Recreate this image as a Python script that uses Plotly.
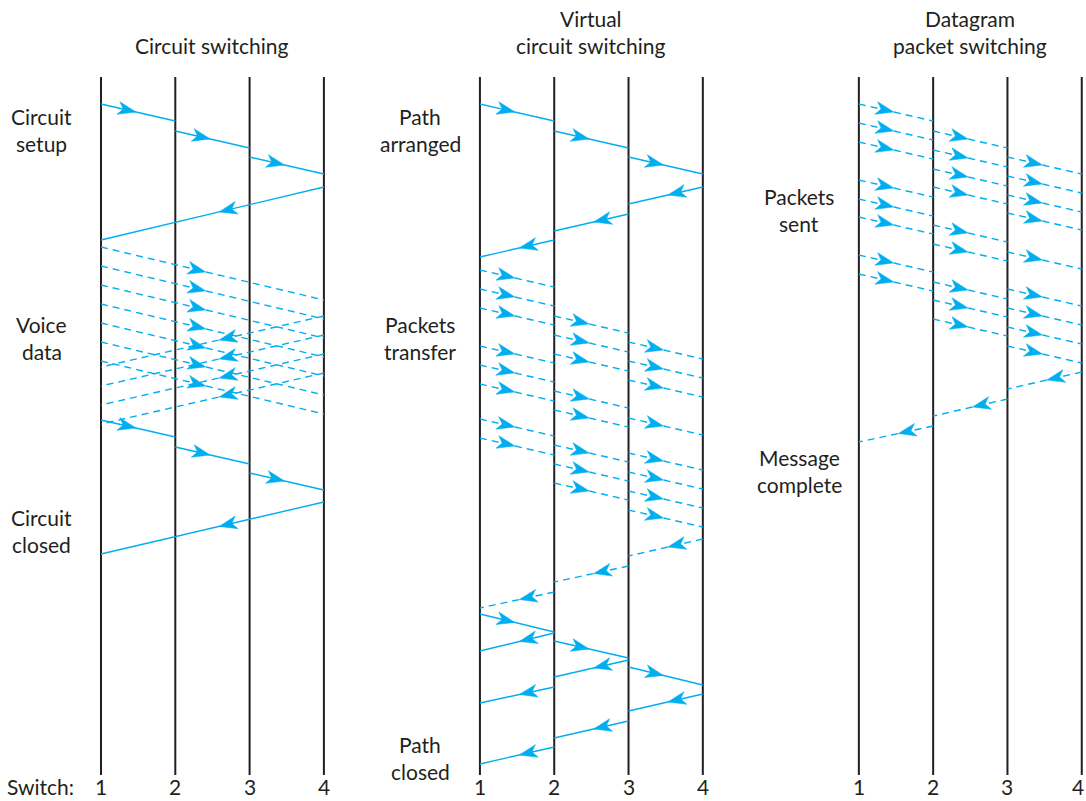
import math
import plotly.graph_objects as go

BLUE = "#00aeef"
INK = "#231f20"
FONT = "Lato"

# page geometry (pixels)
W, H = 1086, 801
SW_PX = 74.3        # gap between neighbouring switches
FIRST_PX = 101      # switch 1 of the first panel
PANEL_GAP = 5.1     # panels are this many switch gaps apart

# segments: (from switch, to switch, time leaving, time arriving)
# time is measured down the page
circuit_setup = [(1, 2, 104, 121), (2, 3, 131, 148), (3, 4, 157, 174), (4, 1, 187, 240)]
circuit_voice = [(1, 4, 247, 300), (1, 4, 266, 319), (1, 4, 285, 338), (1, 4, 304, 357),
                 (1, 4, 323, 376), (1, 4, 342, 395), (1, 4, 361, 414),
                 (4, 1, 316, 367), (4, 1, 335, 386), (4, 1, 354, 405), (4, 1, 373, 424)]
circuit_close = [(1, 2, 420, 437), (2, 3, 447, 464), (3, 4, 473, 490), (4, 1, 502, 554)]

vc_setup = [(1, 2, 104, 121), (2, 3, 131, 148), (3, 4, 157, 174),
            (4, 3, 187, 204), (3, 2, 214, 231), (2, 1, 240, 257)]
vc_hop12 = [270, 289, 308, 346, 365, 384, 419, 438]
vc_hop23 = [316, 335, 354, 391, 410, 445, 464, 483]
vc_hop34 = [342, 361, 380, 418, 453, 472, 491, 510]
vc_release = [(4, 3, 539, 556), (3, 2, 566, 582), (2, 1, 592, 608)]
vc_close = [(1, 2, 614, 632), (2, 1, 633, 651), (2, 3, 641, 658), (3, 2, 660, 677),
            (3, 4, 667, 685), (4, 3, 694, 711), (2, 1, 687, 703), (3, 2, 721, 738),
            (2, 1, 747, 764)]

dg_hop12 = [104, 123, 142, 180, 199, 217, 255, 274]
dg_hop23 = [131, 150, 169, 187, 225, 244, 282, 300, 319]
dg_hop34 = [157, 176, 195, 213, 252, 289, 308, 327, 346]
dg_done = [(4, 3, 372, 389), (3, 2, 399, 416), (2, 1, 426, 442)]

hop_time = 17  # time for one packet to cross one link

titles = [["Circuit switching"], ["Virtual", "circuit switching"], ["Datagram", "packet switching"]]
side_labels = [
    (0, ["Circuit", "setup"], 116),
    (0, ["Voice", "data"], 324),
    (0, ["Circuit", "closed"], 517),
    (1, ["Path", "arranged"], 116),
    (1, ["Packets", "transfer"], 324),
    (1, ["Path", "closed"], 744),
    (2, ["Packets", "sent"], 196),
    (2, ["Message", "complete"], 457),
]
switches = [1, 2, 3, 4]


def hops(start_times, a, b):
    return [(a, b, t, t + hop_time) for t in start_times]


def xpos(panel, switch):
    return panel * PANEL_GAP + (switch - 1)


solid = [(0, circuit_setup), (0, circuit_close), (1, vc_setup), (1, vc_close)]
dashed = [(0, circuit_voice),
          (1, hops(vc_hop12, 1, 2) + hops(vc_hop23, 2, 3) + hops(vc_hop34, 3, 4) + vc_release),
          (2, hops(dg_hop12, 1, 2) + hops(dg_hop23, 2, 3) + hops(dg_hop34, 3, 4) + dg_done)]


def path(groups):
    xs, ys = [], []
    for panel, segs in groups:
        for a, b, t0, t1 in segs:
            xs += [xpos(panel, a), xpos(panel, b), None]
            ys += [t0, t1, None]
    return xs, ys


# arrowheads: barbed darts placed part way along each segment
HEAD_AT = 0.47
HEAD_LEN, HEAD_HALF, HEAD_NOTCH = 18, 6.5, 5


def heads(groups):
    xs, ys = [], []
    for panel, segs in groups:
        for a, b, t0, t1 in segs:
            x0, x1 = xpos(panel, a), xpos(panel, b)
            dx, dy = (x1 - x0) * SW_PX, t1 - t0
            n = math.hypot(dx, dy)
            ux, uy = dx / n, dy / n
            vx, vy = -uy, ux
            tx = x0 + HEAD_AT * (x1 - x0)
            ty = t0 + HEAD_AT * (t1 - t0)
            pts = [(0, 0),
                   (-HEAD_LEN * ux + HEAD_HALF * vx, -HEAD_LEN * uy + HEAD_HALF * vy),
                   (-(HEAD_LEN - HEAD_NOTCH) * ux, -(HEAD_LEN - HEAD_NOTCH) * uy),
                   (-HEAD_LEN * ux - HEAD_HALF * vx, -HEAD_LEN * uy - HEAD_HALF * vy),
                   (0, 0)]
            for px, py in pts:
                xs.append(tx + px / SW_PX)
                ys.append(ty + py)
            xs.append(None)
            ys.append(None)
    return xs, ys


fig = go.Figure()

# switch time lines
vx_, vy_ = [], []
for panel in range(3):
    for s in switches:
        vx_ += [xpos(panel, s), xpos(panel, s), None]
        vy_ += [77, 775, None]
fig.add_trace(go.Scatter(x=vx_, y=vy_, mode="lines", line=dict(color=INK, width=2),
                         hoverinfo="skip"))

sx, sy = path(solid)
fig.add_trace(go.Scatter(x=sx, y=sy, mode="lines", line=dict(color=BLUE, width=1.4),
                         hoverinfo="skip"))
dx_, dy_ = path(dashed)
fig.add_trace(go.Scatter(x=dx_, y=dy_, mode="lines",
                         line=dict(color=BLUE, width=1.4, dash="7px,5px"),
                         hoverinfo="skip"))
hx, hy = heads(solid + dashed)
fig.add_trace(go.Scatter(x=hx, y=hy, mode="lines", fill="toself", fillcolor=BLUE,
                         line=dict(color=BLUE, width=0.5), hoverinfo="skip"))

ann = []
font = dict(family=FONT, size=21, color=INK)
for panel, lines in enumerate(titles):
    for i, line in enumerate(lines):
        y = 45 - 27 * (len(lines) - 1 - i)
        ann.append(dict(x=xpos(panel, 2.5), y=y, text=line, showarrow=False,
                        xanchor="center", yanchor="middle", font=font))
for panel, lines, y0 in side_labels:
    for i, line in enumerate(lines):
        ann.append(dict(x=xpos(panel, 1) - 0.8, y=y0 + 27 * i, text=line, showarrow=False,
                        xanchor="center", yanchor="middle", font=font))
for panel in range(3):
    for s in switches:
        # keep the last label inside the right edge of the page
        shift = -4 if (panel == 2 and s == switches[-1]) else 0
        ann.append(dict(x=xpos(panel, s), y=H, text=str(s), showarrow=False,
                        xanchor="center", yanchor="bottom", xshift=shift, font=font))
ann.append(dict(x=xpos(0, 1) - 0.82, y=H, text="Switch:", showarrow=False,
                xanchor="center", yanchor="bottom", font=font))

fig.update_layout(
    width=W, height=H,
    margin=dict(l=0, r=0, t=0, b=0),
    showlegend=False,
    plot_bgcolor="white", paper_bgcolor="white",
    xaxis=dict(range=[-FIRST_PX / SW_PX, (W - FIRST_PX) / SW_PX], visible=False, fixedrange=True),
    yaxis=dict(range=[H, 0], visible=False, fixedrange=True),
    annotations=ann,
)

# drop the browser's default page margin so the figure fills the window exactly
fig.write_html("out.html", config={"displayModeBar": False},
               post_script="document.body.style.margin='0';document.body.style.overflow='hidden';")
